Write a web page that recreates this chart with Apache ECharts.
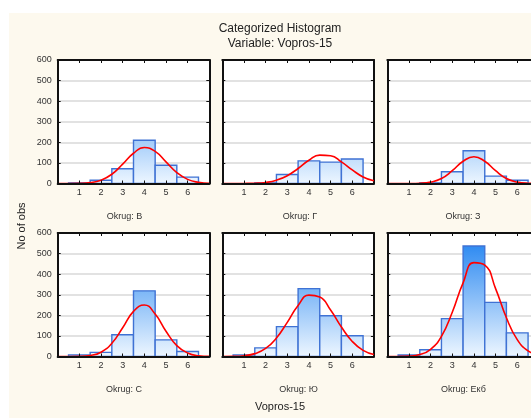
<!DOCTYPE html>
<html>
<head>
<meta charset="utf-8">
<script src="https://cdn.jsdelivr.net/npm/echarts@6/dist/echarts.min.js"></script>
<style>
  html, body { margin: 0; padding: 0; background: #fff; }
  #chart { width: 531px; height: 418px; }
</style>
</head>
<body>
<div id="chart"></div>
<script>
// категории и значения
const okrugNames = ['Okrug: В', 'Okrug: Г', 'Okrug: З', 'Okrug: С', 'Okrug: Ю', 'Okrug: Екб']
const binCenters = [1, 2, 3, 4, 5, 6]
const yTicks = [0, 100, 200, 300, 400, 500, 600]

const countsV = [3, 16, 72, 210, 89, 31]
const countsG = [0, 3, 44, 110, 104, 119]
const countsZ = [0, 3, 57, 159, 36, 16]
const countsS = [8, 20, 106, 319, 81, 24]
const countsYu = [8, 42, 145, 330, 198, 101]
const countsEkb = [7, 33, 184, 537, 263, 115]

// точки красной кривой (нормальная подгонка), читаются с графика
const curveX = [0, 0.5, 1, 1.5, 2, 2.5, 3, 3.5, 4, 4.5, 5, 5.5, 6, 6.5, 7]
const fitV = [0, 0.1, 0.9, 4.4, 16, 45, 94, 147, 175, 156, 105, 53, 20, 5.8, 1.3]
const fitG = [0, 0.05, 0.3, 1.4, 5.2, 16, 38, 73, 113, 138, 135, 105, 66, 32, 13]
const fitZ = [0, 0, 0.2, 1.2, 6.6, 24, 62, 108, 130, 108, 62, 24, 6.6, 1.2, 0.2]
const fitS = [0, 0.1, 0.9, 5.2, 21, 64, 140, 219, 250, 206, 123, 53, 17, 3.8, 0.6]
const fitYu = [0.2, 0.9, 4, 14, 39, 90, 166, 248, 298, 289, 226, 143, 73, 30, 10]
const fitEkb = [0, 0.3, 1.9, 9.2, 35, 98, 215, 358, 456, 444, 330, 188, 82, 27, 7]

const allCounts = [countsV, countsG, countsZ, countsS, countsYu, countsEkb]
const allFits = [fitV, fitG, fitZ, fitS, fitYu, fitEkb]

// раскладка панелей
const colLeft = [57.7, 222.3, 387.3]
const rowTop = [60, 233]
const panelW = 151.6
const panelH = 123.5
const labelPos = [[124.5, 217], [300, 217], [463, 217], [124, 390], [298.5, 390], [463.5, 390]]

const font = "'Liberation Sans', Arial, sans-serif"
const chart = echarts.init(document.getElementById('chart'))

const renderBar = (params, api) => {
  const x = api.value(0)
  const v = api.value(1)
  if (!v) return null
  const p0 = api.coord([x - 0.5, v])
  const p1 = api.coord([x + 0.5, 0])
  const top = api.coord([0, 600])[1]
  const bottom = api.coord([0, 0])[1]
  return {
    type: 'rect',
    shape: { x: p0[0], y: p0[1], width: p1[0] - p0[0], height: p1[1] - p0[1] },
    style: {
      fill: new echarts.graphic.LinearGradient(0, top, 0, bottom, [
        { offset: 0, color: '#1a7ff0' },
        { offset: 1, color: '#edf6ff' }
      ], true),
      stroke: '#3f72d4',
      lineWidth: 1.4
    }
  }
}

const grids = []
const xAxes = []
const yAxes = []
const series = []
const frameLine = { show: true, onZero: false, lineStyle: { color: '#111', width: 2 } }
const tick = { show: true, inside: true, length: 3, lineStyle: { color: '#111', width: 1 } }

for (let i = 0; i < 6; i++) {
  const col = i % 3
  const row = Math.floor(i / 3)
  grids.push({
    left: colLeft[col], top: rowTop[row], width: panelW, height: panelH,
    containLabel: false, outerBoundsMode: 'none'
  })
  xAxes.push({
    gridIndex: i, type: 'value', min: 0, max: 7, interval: 1, position: 'bottom', z: 8,
    axisLine: frameLine, axisTick: tick, splitLine: { show: false },
    axisLabel: {
      margin: 5, fontSize: 9, fontFamily: font, color: '#333',
      formatter: v => (binCenters.includes(v) ? String(v) : '')
    }
  })
  xAxes.push({
    gridIndex: i, type: 'value', min: 0, max: 7, interval: 1, position: 'top', z: 8,
    axisLine: frameLine, axisTick: tick, splitLine: { show: false }, axisLabel: { show: false }
  })
  yAxes.push({
    gridIndex: i, type: 'value', min: 0, max: 600, interval: 100, position: 'left', z: 8,
    axisLine: frameLine, axisTick: tick,
    splitLine: { show: false },
    axisLabel: {
      show: col === 0, margin: 6, fontSize: 9, fontFamily: font, color: '#333',
      formatter: v => (yTicks.includes(v) ? String(v) : '')
    }
  })
  // горизонтальная сетка — под столбиками
  yAxes.push({
    gridIndex: i, type: 'value', min: 0, max: 600, interval: 100, position: 'right', z: 3,
    axisLine: frameLine, axisTick: tick, axisLabel: { show: false },
    splitLine: { show: true, lineStyle: { color: '#d9d9d9', width: 1.5 } }
  })

  series.push({
    type: 'custom',
    xAxisIndex: 2 * i,
    yAxisIndex: 2 * i,
    renderItem: renderBar,
    data: binCenters.map((x, k) => [x, allCounts[i][k]]),
    z: 4,
    silent: true
  })
  series.push({
    type: 'line',
    xAxisIndex: 2 * i,
    yAxisIndex: 2 * i,
    data: curveX.map((x, k) => [x, allFits[i][k]]),
    smooth: true,
    showSymbol: false,
    lineStyle: { color: '#ff0000', width: 1.6 },
    z: 5,
    silent: true
  })
}

const text = (str, x, y, size, extra) => Object.assign({
  type: 'text', x, y, silent: true,
  style: { text: str, font: size + 'px ' + font, fill: '#222', textAlign: 'center', textVerticalAlign: 'middle' }
}, extra || {})

const graphics = [
  { type: 'rect', shape: { x: 0, y: 0, width: 531, height: 13 }, style: { fill: '#fff' }, silent: true },
  { type: 'rect', shape: { x: 0, y: 0, width: 9, height: 418 }, style: { fill: '#fff' }, silent: true },
  text('Categorized Histogram', 280, 28.5, 12),
  text('Variable: Vopros-15', 280, 44, 12),
  text('Vopros-15', 280, 407, 11),
  text('No of obs', 22, 226, 11, { rotation: Math.PI / 2 })
]
// белый фон внутри каждой панели
for (let i = 0; i < 6; i++) {
  graphics.push({
    type: 'rect', silent: true,
    shape: { x: colLeft[i % 3], y: rowTop[Math.floor(i / 3)], width: panelW, height: panelH },
    style: { fill: '#fff' }
  })
}
okrugNames.forEach((name, i) => {
  const t = text(name, labelPos[i][0], labelPos[i][1], 9)
  t.style.fill = '#333'
  graphics.push(t)
})

chart.setOption({
  animation: false,
  backgroundColor: '#fdf9ee',
  grid: grids,
  xAxis: xAxes,
  yAxis: yAxes,
  series: series,
  graphic: { z: 0, elements: graphics }
})
</script>
</body>
</html>
